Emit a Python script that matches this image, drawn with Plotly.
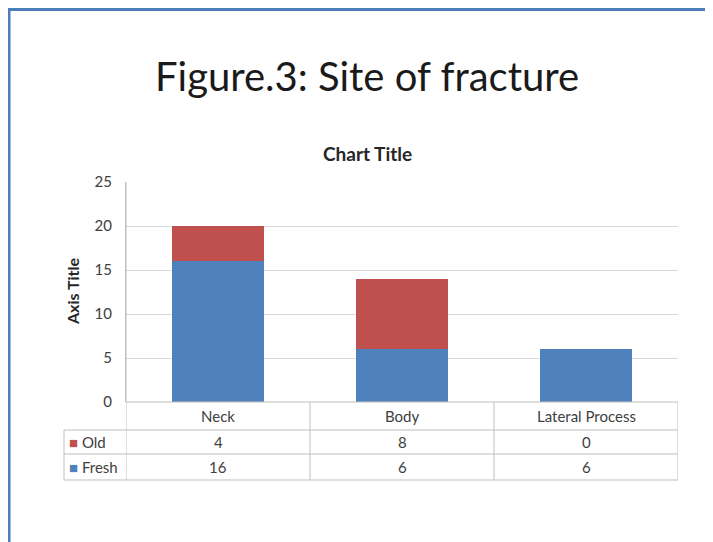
import plotly.graph_objects as go

# data
categories = ['Neck', 'Body', 'Lateral Process']
fresh = [16, 6, 6]
old = [4, 8, 0]
series_names = ['Old', 'Fresh']

BLUE = '#4F81BD'
RED = '#C0504D'
GRID = '#D9D9D9'
TABLE_LINE = '#BFBFBF'
TEXT = '#404040'
FONT = 'Lato'

# page has an 8px body margin, so the figure starts at (8, 8) on screen
OFF = 8
W, H = 713 - OFF, 542 - OFF
# plot area in screen pixels
PL, PR, PT, PB = 126, 678, 182, 402


def px_x(x):
    return (x - PL) / (PR - PL)


def px_y(y):
    return (PB - y) / (PB - PT)


fig = go.Figure()
fig.add_trace(go.Bar(x=categories, y=fresh, name='Fresh', marker_color=BLUE,
                     marker_line_width=0, showlegend=False))
fig.add_trace(go.Bar(x=categories, y=old, name='Old', marker_color=RED,
                     marker_line_width=0, showlegend=False))

# data table below the plot
row_edges = [PB, 430, 454, 480]
rows = {'Old': (old, RED), 'Fresh': (fresh, BLUE)}
shapes = []
annotations = []

shapes.append(dict(type='line', xref='x domain', yref='paper', x0=0, x1=1,
                   y0=px_y(row_edges[0]), y1=px_y(row_edges[0]),
                   line=dict(color=TABLE_LINE, width=1)))
for ye in row_edges[1:]:
    shapes.append(dict(type='line', xref='x domain', yref='paper',
                       x0=px_x(64), x1=1, y0=px_y(ye), y1=px_y(ye),
                       line=dict(color=TABLE_LINE, width=1)))
shapes.append(dict(type='line', xref='x domain', yref='paper', x0=px_x(64), x1=px_x(64),
                   y0=px_y(row_edges[1]), y1=px_y(row_edges[3]),
                   line=dict(color=TABLE_LINE, width=1)))
for i in range(len(categories) + 1):
    shapes.append(dict(type='line', xref='x', yref='paper', x0=i - 0.5, x1=i - 0.5,
                       y0=px_y(PB) if i else 1, y1=px_y(row_edges[3]),
                       line=dict(color=TABLE_LINE, width=1)))

cell_font = dict(size=15, color=TEXT)
for c in categories:
    annotations.append(dict(x=c, xref='x', yref='paper', y=px_y(416), text=c,
                            xanchor='center', yanchor='middle',
                            showarrow=False, font=cell_font))
for r, name in enumerate(series_names):
    vals, col = rows[name]
    yc = px_y((row_edges[r + 1] + row_edges[r + 2]) / 2)
    annotations.append(dict(x=px_x(67), xref='x domain', yref='paper', y=yc,
                            xanchor='left', yanchor='middle',
                            text=f'<span style="color:{col}">■</span> {name}',
                            showarrow=False, font=cell_font))
    for c, v in zip(categories, vals):
        annotations.append(dict(x=c, xref='x', yref='paper', y=yc, text=str(v),
                                xanchor='center', yanchor='middle',
                                showarrow=False, font=cell_font))

# figure heading, chart title and axis title
annotations.append(dict(x=px_x(367), xref='x domain', y=px_y(76), yref='paper',
                        xanchor='center', yanchor='middle',
                        text='Figure.3: Site of fracture', showarrow=False,
                        font=dict(size=40, color='#1a1a1a')))
annotations.append(dict(x=px_x(367), xref='x domain', y=px_y(153), yref='paper',
                        xanchor='center', yanchor='middle',
                        text='<b>Chart Title</b>', showarrow=False,
                        font=dict(size=19, color='#262626')))
annotations.append(dict(x=px_x(72), xref='x domain', y=px_y(292), yref='paper',
                        xanchor='center', yanchor='middle', textangle=-90,
                        text='<b>Axis Title</b>', showarrow=False,
                        font=dict(size=16, color='#262626')))

# page frame (top edge drawn at the first visible row of the figure)
shapes.append(dict(type='line', xref='paper', yref='paper', x0=px_x(9), x1=px_x(9),
                   y0=px_y(8), y1=px_y(560), line=dict(color='#4A7EBB', width=3)))
shapes.append(dict(type='line', xref='paper', yref='paper', x0=px_x(8), x1=px_x(730),
                   y0=px_y(9.5), y1=px_y(9.5), line=dict(color='#4A7EBB', width=3)))

fig.update_layout(
    barmode='stack',
    bargap=0.5,
    width=W, height=H,
    margin=dict(l=PL - OFF, r=713 - PR, t=PT - OFF, b=542 - PB, pad=0),
    paper_bgcolor='white', plot_bgcolor='white',
    font=dict(family=FONT, size=15, color=TEXT),
    shapes=shapes,
    annotations=annotations,
)
fig.update_xaxes(showticklabels=False, showgrid=False, zeroline=False, showline=False,
                 range=[-0.5, 2.5])
fig.update_yaxes(range=[0, 25], dtick=5, gridcolor=GRID, gridwidth=1, zeroline=False,
                 showline=True, linecolor=TABLE_LINE, ticks='', ticklabelstandoff=10,
                 tickfont=dict(size=15, color=TEXT))

fig.write_html('out.html')
